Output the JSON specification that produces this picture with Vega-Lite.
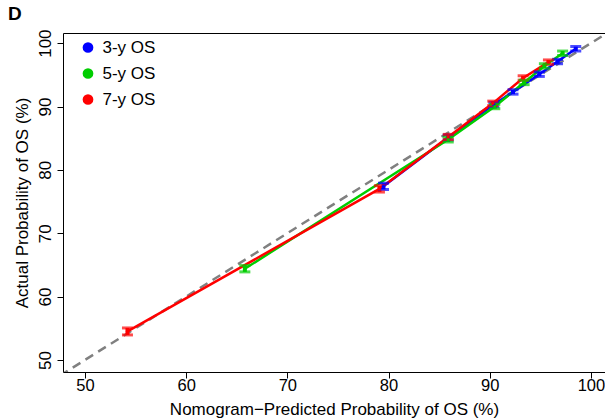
{
  "$schema": "https://vega.github.io/schema/vega-lite/v6.json",
  "width": 542,
  "height": 339,
  "autosize": {"type": "none"},
  "padding": {"left": 63, "top": 33, "right": 0, "bottom": 47},
  "title": {"text": "D", "anchor": "start", "frame": "group", "fontSize": 19, "fontWeight": "bold", "font": "Liberation Sans", "dx": -55, "offset": 5, "color": "black"},
  "config": {
    "font": "Liberation Sans",
    "view": {"stroke": null},
    "axis": {"labelFontSize": 17, "titleFontSize": 17, "titleFontWeight": "normal", "labelColor": "black", "titleColor": "black", "domainColor": "black", "domainWidth": 1, "tickColor": "black", "tickSize": 6, "grid": false, "labelFont": "Liberation Sans", "titleFont": "Liberation Sans"}
  },
  "resolve": {"axis": {"x": "independent"}, "legend": {"color": "independent"}},
  "datasets": {
    "diag": [{"x": 40, "y": 40}, {"x": 110, "y": 110}],
    "cal": [
      {"series": "3-y OS", "pred": 79.5, "obs": 77.4, "lo": 76.9, "hi": 77.9},
      {"series": "3-y OS", "pred": 85.9, "obs": 85.1, "lo": 84.7, "hi": 85.5},
      {"series": "3-y OS", "pred": 90.4, "obs": 90.3, "lo": 89.95, "hi": 90.65},
      {"series": "3-y OS", "pred": 92.3, "obs": 92.3, "lo": 91.95, "hi": 92.65},
      {"series": "3-y OS", "pred": 94.9, "obs": 95.1, "lo": 94.75, "hi": 95.45},
      {"series": "3-y OS", "pred": 96.7, "obs": 97.1, "lo": 96.75, "hi": 97.45},
      {"series": "3-y OS", "pred": 98.5, "obs": 99.1, "lo": 98.75, "hi": 99.45},
      {"series": "5-y OS", "pred": 65.8, "obs": 64.4, "lo": 63.9, "hi": 64.9},
      {"series": "5-y OS", "pred": 85.9, "obs": 84.8, "lo": 84.4, "hi": 85.2},
      {"series": "5-y OS", "pred": 90.5, "obs": 90.0, "lo": 89.65, "hi": 90.35},
      {"series": "5-y OS", "pred": 93.4, "obs": 93.8, "lo": 93.45, "hi": 94.15},
      {"series": "5-y OS", "pred": 95.4, "obs": 96.4, "lo": 96.05, "hi": 96.75},
      {"series": "5-y OS", "pred": 97.2, "obs": 98.4, "lo": 98.05, "hi": 98.75},
      {"series": "7-y OS", "pred": 54.2, "obs": 54.5, "lo": 53.95, "hi": 55.05},
      {"series": "7-y OS", "pred": 79.1, "obs": 77.0, "lo": 76.5, "hi": 77.5},
      {"series": "7-y OS", "pred": 85.9, "obs": 85.2, "lo": 84.8, "hi": 85.6},
      {"series": "7-y OS", "pred": 90.3, "obs": 90.5, "lo": 90.15, "hi": 90.85},
      {"series": "7-y OS", "pred": 93.3, "obs": 94.5, "lo": 94.15, "hi": 94.85},
      {"series": "7-y OS", "pred": 95.8, "obs": 97.0, "lo": 96.65, "hi": 97.35}
    ]
  },
  "layer": [
    {
      "data": {"name": "diag"},
      "mark": {"type": "line", "strokeDash": [9, 6], "color": "#808080", "strokeWidth": 2.5, "clip": true},
      "encoding": {
        "x": {"field": "x", "type": "quantitative", "scale": {"domain": [47.83, 101.39], "nice": false, "zero": false}, "axis": {"orient": "top", "labels": false, "ticks": false, "title": null, "domain": true}},
        "y": {"field": "y", "type": "quantitative", "scale": {"domain": [48.1, 101.6], "nice": false, "zero": false}}
      }
    },
    {
      "data": {"name": "cal"},
      "mark": {"type": "line", "strokeWidth": 2.5, "clip": true},
      "encoding": {
        "x": {"field": "pred", "type": "quantitative", "axis": {"orient": "bottom", "title": "Nomogram−Predicted Probability of OS (%)", "values": [50, 60, 70, 80, 90, 100], "labelFontSize": 16.5, "labelPadding": -1, "titlePadding": 8}},
        "y": {"field": "obs", "type": "quantitative", "axis": {"title": "Actual Probability of OS (%)", "values": [50, 60, 70, 80, 90, 100], "labelAngle": -90, "labelAlign": "center", "labelBaseline": "bottom", "labelPadding": 3, "titlePadding": 5}},
        "color": {"field": "series", "type": "nominal", "scale": {"domain": ["3-y OS", "5-y OS", "7-y OS"], "range": ["#0000ff", "#00cd00", "#ff0000"]}, "legend": null}
      }
    },
    {
      "data": {"name": "cal"},
      "mark": {"type": "rule", "strokeWidth": 4},
      "encoding": {
        "x": {"field": "pred", "type": "quantitative", "axis": null},
        "y": {"field": "lo", "type": "quantitative"},
        "y2": {"field": "hi"},
        "color": {"field": "series", "type": "nominal", "legend": null}
      }
    },
    {
      "data": {"name": "cal"},
      "mark": {"type": "tick", "orient": "horizontal", "size": 11, "thickness": 3},
      "encoding": {
        "x": {"field": "pred", "type": "quantitative", "axis": null},
        "y": {"field": "lo", "type": "quantitative"},
        "color": {"field": "series", "type": "nominal", "legend": null}
      }
    },
    {
      "data": {"name": "cal"},
      "mark": {"type": "tick", "orient": "horizontal", "size": 11, "thickness": 3},
      "encoding": {
        "x": {"field": "pred", "type": "quantitative", "axis": null},
        "y": {"field": "hi", "type": "quantitative"},
        "color": {"field": "series", "type": "nominal", "legend": null}
      }
    },
    {
      "data": {"name": "cal"},
      "mark": {"type": "point", "filled": true, "shape": "circle", "size": 10, "opacity": 1},
      "encoding": {
        "x": {"field": "pred", "type": "quantitative", "axis": null},
        "y": {"field": "obs", "type": "quantitative"},
        "color": {"field": "series", "type": "nominal", "legend": {"title": null, "orient": "none", "legendX": 16.5, "legendY": 6, "symbolType": "circle", "symbolSize": 115, "labelFontSize": 17, "labelFont": "Liberation Sans", "labelColor": "black", "rowPadding": 8, "labelOffset": 6, "symbolStrokeWidth": 0, "symbolOpacity": 1}}
      }
    }
  ]
}
